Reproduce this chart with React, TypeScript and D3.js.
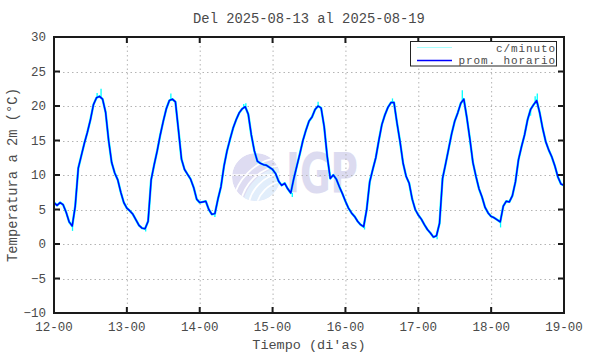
import { useEffect, useRef } from 'react'
import * as d3 from 'd3'

const dayLabels = ['12-00', '13-00', '14-00', '15-00', '16-00', '17-00', '18-00', '19-00']
const yTicks = [-10, -5, 0, 5, 10, 15, 20, 25, 30]

// promedio horario, one value per hour from 12-00 to 19-00
const day12 = [6.0, 5.6, 6.0, 5.7, 4.6, 3.2, 2.6, 5.5, 11.0, 12.8, 14.6, 16.2, 18.0, 20.2, 21.2, 21.4, 21.0, 19.1, 15.0, 11.8, 10.3, 9.3, 7.5, 6.0]
const day13 = [5.2, 4.8, 4.3, 3.5, 2.7, 2.3, 2.2, 3.3, 9.3, 11.5, 13.5, 15.8, 17.8, 19.6, 20.8, 21.0, 20.6, 16.5, 12.3, 10.8, 10.1, 9.4, 8.2, 6.5]
const day14 = [6.0, 6.1, 6.2, 5.0, 4.3, 4.4, 6.5, 8.3, 11.3, 13.5, 15.2, 16.8, 18.0, 19.0, 19.6, 19.9, 18.8, 15.8, 13.5, 12.0, 11.7, 11.5, 11.4, 11.1]
const day15 = [10.8, 10.2, 9.1, 8.5, 8.8, 8.0, 7.4, 9.5, 11.3, 13.1, 15.0, 16.5, 17.8, 18.4, 19.5, 20.0, 19.7, 17.0, 12.7, 9.5, 10.0, 9.4, 8.3, 7.3]
const day16 = [6.2, 5.2, 4.5, 4.0, 3.3, 2.8, 2.5, 5.0, 9.0, 10.8, 12.5, 15.0, 17.3, 18.7, 19.8, 20.5, 20.5, 17.5, 14.8, 11.7, 9.8, 8.8, 6.5, 5.0]
const day17 = [4.2, 3.6, 2.8, 2.1, 1.6, 1.0, 1.2, 3.0, 9.5, 11.6, 13.8, 16.0, 17.8, 19.0, 20.4, 21.0, 18.3, 15.2, 11.8, 9.8, 8.0, 6.8, 5.3, 4.5]
const day18 = [4.0, 3.8, 3.5, 3.2, 5.5, 6.2, 6.1, 7.0, 9.0, 12.2, 14.1, 15.8, 18.0, 19.5, 20.2, 20.8, 19.0, 16.7, 14.8, 13.6, 12.6, 11.3, 9.7, 8.7]
const day19 = [8.5]

const hourly = [...day12, ...day13, ...day14, ...day15, ...day16, ...day17, ...day18, ...day19]

// c/minuto excursions beyond the hourly mean: [hour, from, to]
const minuteSpikes: [number, number, number][] = [
  [14.2, 21.2, 21.9], [15.5, 21.3, 22.5], [6.1, 2.6, 1.9],
  [24 + 14.5, 20.9, 21.8], [24 + 6.2, 2.2, 1.8],
  [48 + 14.5, 19.7, 20.3], [48 + 15.2, 19.8, 20.4], [48 + 5, 4.4, 3.9],
  [72 + 15, 20.0, 20.6], [72 + 6.5, 7.4, 6.8],
  [96 + 15.5, 20.5, 21.1], [96 + 6.3, 2.5, 2.1],
  [120 + 14.5, 20.7, 22.3], [120 + 6.2, 1.1, 0.7],
  [144 + 14.5, 20.5, 21.4], [144 + 15.2, 20.8, 21.8], [144 + 3.1, 3.2, 2.4], [144 + 13, 19.5, 18.6]
]

const W = 590
const H = 354
const margin = { top: 37, right: 26, bottom: 41, left: 54 }
const font = '"Liberation Mono", "DejaVu Sans Mono", monospace'
const textColor = '#4a4a4a'

export default function App() {
  const svgRef = useRef<SVGSVGElement>(null)

  useEffect(() => {
    if (!svgRef.current) return
    const svg = d3.select(svgRef.current)
    svg.selectAll('*').remove()

    const x = d3.scaleLinear().domain([0, 168]).range([margin.left, W - margin.right])
    const y = d3.scaleLinear().domain([-10, 30]).range([H - margin.bottom, margin.top])
    const [x0, x1] = x.range()
    const [y0, y1] = y.range()

    svg.append('rect').attr('width', W).attr('height', H).attr('fill', '#fff')

    // watermark
    const wm = svg.append('g')
    const cx = 256, cy = 177, r = 24
    svg.append('defs').append('clipPath').attr('id', 'globe')
      .append('circle').attr('cx', cx).attr('cy', cy).attr('r', r)
    const globe = wm.append('g').attr('clip-path', 'url(#globe)')
    globe.append('circle').attr('cx', cx).attr('cy', cy).attr('r', r).attr('fill', '#dedcf2')
    globe.append('circle').attr('cx', cx + 30).attr('cy', cy + 34).attr('r', 44).attr('fill', '#e2eefb')
    ;[30, 38, 46, 54].forEach(rr => {
      globe.append('circle').attr('cx', cx + 30).attr('cy', cy + 34).attr('r', rr)
        .attr('fill', 'none').attr('stroke', '#fff').attr('stroke-width', 1.8)
    })
    globe.append('line').attr('x1', cx - r).attr('x2', cx + r).attr('y1', cy - 2).attr('y2', cy - 2)
      .attr('stroke', '#fff').attr('stroke-width', 1.5)
    wm.append('text')
      .attr('x', 286).attr('y', 192)
      .attr('textLength', 72).attr('lengthAdjust', 'spacingAndGlyphs')
      .attr('font-family', '"DejaVu Sans", sans-serif').attr('font-weight', 'bold')
      .attr('font-size', 55).attr('fill', '#dcdbf0')
      .text('IGP')

    // grid
    const grid = svg.append('g').attr('stroke', '#b4b4b4').attr('stroke-width', 1).attr('stroke-dasharray', '1.5,3')
    dayLabels.forEach((_, i) => {
      if (i === 0 || i === dayLabels.length - 1) return
      grid.append('line').attr('x1', x(i * 24) + 0.5).attr('x2', x(i * 24) + 0.5).attr('y1', y1).attr('y2', y0)
    })
    yTicks.forEach(t => {
      if (t === -10 || t === 30) return
      grid.append('line').attr('x1', x0).attr('x2', x1).attr('y1', Math.round(y(t)) + 0.5).attr('y2', Math.round(y(t)) + 0.5)
    })

    // c/minuto
    const line = d3.line<number>().x((_, i) => x(i)).y(d => y(d))
    svg.append('path').datum(hourly)
      .attr('fill', 'none').attr('stroke', '#00ffff').attr('stroke-width', 2.4)
      .attr('stroke-linejoin', 'round').attr('d', line)
    svg.append('g').selectAll('line').data(minuteSpikes).enter().append('line')
      .attr('x1', d => x(d[0])).attr('x2', d => x(d[0]))
      .attr('y1', d => y(d[1])).attr('y2', d => y(d[2]))
      .attr('stroke', '#00ffff').attr('stroke-width', 1.3)

    // prom. horario
    svg.append('path').datum(hourly)
      .attr('fill', 'none').attr('stroke', '#0000ff').attr('stroke-width', 1.5)
      .attr('stroke-linejoin', 'round').attr('d', line)

    // frame and ticks
    const axes = svg.append('g').attr('stroke', '#1a1a1a')
    axes.append('rect').attr('x', x0).attr('y', y1).attr('width', x1 - x0).attr('height', y0 - y1)
      .attr('fill', 'none').attr('stroke-width', 2)
    dayLabels.forEach((_, i) => {
      const px = x(i * 24)
      axes.append('line').attr('x1', px).attr('x2', px).attr('y1', y0).attr('y2', y0 - 6).attr('stroke-width', 2)
      axes.append('line').attr('x1', px).attr('x2', px).attr('y1', y1).attr('y2', y1 + 6).attr('stroke-width', 2)
    })
    yTicks.forEach(t => {
      const py = y(t)
      axes.append('line').attr('x1', x0).attr('x2', x0 + 6).attr('y1', py).attr('y2', py).attr('stroke-width', 2)
      axes.append('line').attr('x1', x1).attr('x2', x1 - 6).attr('y1', py).attr('y2', py).attr('stroke-width', 2)
    })

    const txt = svg.append('g').attr('font-family', font).attr('fill', textColor)
    dayLabels.forEach((lab, i) => {
      txt.append('text').attr('x', x(i * 24)).attr('y', 331).attr('text-anchor', 'middle')
        .attr('font-size', 12.5).text(lab)
    })
    yTicks.forEach(t => {
      txt.append('text').attr('x', 46).attr('y', y(t) + 4).attr('text-anchor', 'end')
        .attr('font-size', 12.5).text(t < 0 ? `\u2212${-t}` : `${t}`)
    })
    txt.append('text').attr('x', (x0 + x1) / 2).attr('y', 23).attr('text-anchor', 'middle')
      .attr('font-size', 13.8).text('Del 2025-08-13 al 2025-08-19')
    txt.append('text').attr('x', (x0 + x1) / 2).attr('y', 349).attr('text-anchor', 'middle')
      .attr('font-size', 13.5).text("Tiempo (di'as)")
    txt.append('text')
      .attr('transform', `translate(17,${(y0 + y1) / 2}) rotate(-90)`)
      .attr('text-anchor', 'middle').attr('font-size', 13.8)
      .text('Temperatura a 2m (\u00b0C)')

    // legend
    const lg = svg.append('g')
    lg.append('rect').attr('x', 410.5).attr('y', 41.5).attr('width', 146).attr('height', 24.5)
      .attr('fill', '#fff').attr('stroke', '#222').attr('stroke-width', 1)
    lg.append('line').attr('x1', 417).attr('x2', 452).attr('y1', 47.5).attr('y2', 47.5)
      .attr('stroke', '#a8ffff').attr('stroke-width', 1)
    lg.append('line').attr('x1', 417).attr('x2', 452).attr('y1', 60.5).attr('y2', 60.5)
      .attr('stroke', '#0000ff').attr('stroke-width', 1.5)
    lg.append('text').attr('x', 556).attr('y', 52).attr('text-anchor', 'end')
      .attr('font-family', font).attr('font-size', 11).attr('letter-spacing', 0.9)
      .attr('fill', textColor).text('c/minuto')
    lg.append('text').attr('x', 556).attr('y', 64).attr('text-anchor', 'end')
      .attr('font-family', font).attr('font-size', 11).attr('letter-spacing', 0.9)
      .attr('fill', textColor).text('prom. horario')
  }, [])

  return <svg ref={svgRef} width={W} height={H} style={{ position: 'absolute', left: 0, top: 0 }} />
}
